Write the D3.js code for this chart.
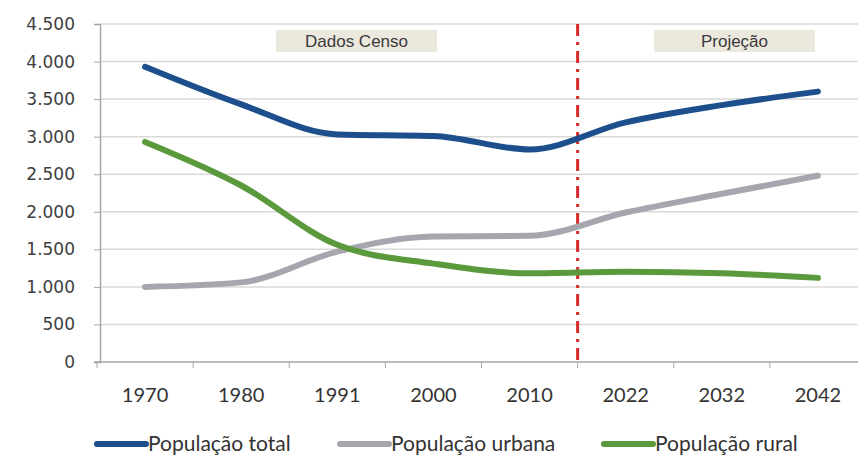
<!DOCTYPE html>
<html>
<head>
<meta charset="utf-8">
<script src="https://cdn.jsdelivr.net/npm/d3@7"></script>
<style>
  body { margin: 0; background: #fff; }
  .axis-y text { font-family: "DejaVu Sans", Verdana, sans-serif; font-size: 17px; fill: #404040; }
  .axis-x text { font-family: Lato, "Open Sans", sans-serif; font-size: 20px; fill: #333; }
  .legend text { font-family: Lato, "Open Sans", sans-serif; font-size: 21px; fill: #333; }
  .note text { font-family: "Liberation Sans", Arial, sans-serif; font-size: 17px; fill: #3a3a3a; }
</style>
</head>
<body>
<div id="chart"></div>
<script>
// data
var years = ["1970", "1980", "1991", "2000", "2010", "2022", "2032", "2042"];
var total = [3930, 3430, 3030, 3010, 2830, 3190, 3420, 3600];
var urbana = [1000, 1060, 1470, 1670, 1680, 1990, 2240, 2480];
var rural = [2930, 2350, 1560, 1310, 1180, 1200, 1180, 1120];
var yTicks = [0, 500, 1000, 1500, 2000, 2500, 3000, 3500, 4000, 4500];
var seriesNames = ["População total", "População urbana", "População rural"];
var seriesColors = ["#1d4f8c", "#a6a6ae", "#5b9a3c"];

var width = 858, height = 456;
var margin = { top: 24, left: 100, bottom: 94 };

var svg = d3.select("#chart").append("svg")
    .attr("width", width)
    .attr("height", height);

var x = d3.scaleBand().domain(years).range([97, 866]);
var y = d3.scaleLinear().domain([0, 4500]).range([height - margin.bottom, margin.top]);
var xc = function (d) { return x(d) + x.bandwidth() / 2; };

// gridlines
svg.append("g").selectAll("line")
    .data(yTicks.filter(function (t) { return t > 0; }))
    .enter().append("line")
    .attr("x1", margin.left).attr("x2", width)
    .attr("y1", function (d) { return y(d); })
    .attr("y2", function (d) { return y(d); })
    .attr("stroke", "#d9d9d9")
    .attr("stroke-width", 1.5);

// y axis
var gy = svg.append("g")
    .attr("class", "axis-y")
    .attr("transform", "translate(" + margin.left + ",0)")
    .call(d3.axisLeft(y).tickValues(yTicks).tickSize(6).tickPadding(19)
        .tickFormat(function (d) { return d3.format(",")(d).replace(/,/g, "."); }));
gy.select(".domain").attr("stroke", "#a6a6a6").attr("stroke-width", 1.5);
gy.selectAll(".tick line").attr("stroke", "#a6a6a6");

// x axis
var gx = svg.append("g")
    .attr("class", "axis-x")
    .attr("transform", "translate(0," + y(0) + ")");
gx.append("line")
    .attr("x1", margin.left - 6).attr("x2", width)
    .attr("stroke", "#a6a6a6").attr("stroke-width", 1.5);
gx.selectAll(".tk")
    .data(years)
    .enter().append("line")
    .attr("class", "tk")
    .attr("x1", function (d) { return x(d); })
    .attr("x2", function (d) { return x(d); })
    .attr("y1", 0).attr("y2", 6)
    .attr("stroke", "#a6a6a6");
gx.selectAll("text")
    .data(years)
    .enter().append("text")
    .attr("x", xc)
    .attr("y", 40)
    .attr("text-anchor", "middle")
    .text(function (d) { return d; });

// boxes for the two periods
var notes = [
  { label: "Dados Censo", x0: 276, x1: 437 },
  { label: "Projeção", x0: 654, x1: 815 }
];
var gn = svg.append("g").attr("class", "note");
notes.forEach(function (n) {
  gn.append("rect")
      .attr("x", n.x0).attr("y", 30)
      .attr("width", n.x1 - n.x0).attr("height", 22)
      .attr("fill", "#ebe8dd");
  gn.append("text")
      .attr("x", (n.x0 + n.x1) / 2).attr("y", 47)
      .attr("text-anchor", "middle")
      .text(n.label);
});

// separator between census and projection
var split = x("2022");
svg.append("line")
    .attr("x1", split).attr("x2", split)
    .attr("y1", y(4500)).attr("y2", y(0))
    .attr("stroke", "#d42a2a")
    .attr("stroke-width", 3)
    .attr("stroke-dasharray", "12,6,3,6");

// lines
var line = d3.line()
    .x(function (d, i) { return xc(years[i]); })
    .y(function (d) { return y(d); })
    .curve(d3.curveMonotoneX);

[total, urbana, rural].forEach(function (s, i) {
  svg.append("path")
      .datum(s)
      .attr("d", line)
      .attr("fill", "none")
      .attr("stroke", seriesColors[i])
      .attr("stroke-width", 6)
      .attr("stroke-linecap", "round")
      .attr("stroke-linejoin", "round");
});

// legend
var legendX = [97, 340, 604];
var gl = svg.append("g").attr("class", "legend");
seriesNames.forEach(function (name, i) {
  gl.append("line")
      .attr("x1", legendX[i]).attr("x2", legendX[i] + 49)
      .attr("y1", 444).attr("y2", 444)
      .attr("stroke", seriesColors[i])
      .attr("stroke-width", 6)
      .attr("stroke-linecap", "round");
  gl.append("text")
      .attr("x", legendX[i] + 51).attr("y", 451)
      .text(name);
});
</script>
</body>
</html>
